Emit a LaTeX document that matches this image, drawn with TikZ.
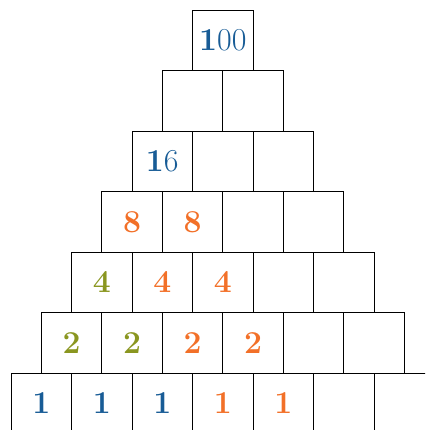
\documentclass[tikz,border=0pt]{standalone}
\usepackage{tikz}

\definecolor{numblue}{RGB}{24,92,150}
\definecolor{numorange}{RGB}{242,112,40}
\definecolor{numolive}{RGB}{138,150,32}
\newcommand{\nblue}[1]{\textcolor{numblue}{\textbf{#1}}}
\newcommand{\norange}[1]{\textcolor{numorange}{\textbf{#1}}}
\newcommand{\nolive}[1]{\textcolor{numolive}{\textbf{#1}}}

\begin{document}
\begin{tikzpicture}[
  cell/.style={rectangle, draw, line width=0.4pt, minimum size=1cm, inner sep=0pt, font=\fontsize{15}{18}\selectfont}
]
\useasboundingbox (-3.682,-6.442) rectangle (3.343,0.665);
\clip (-3.682,-6.442) rectangle (3.343,0.665);

% row 1
\node[cell] (r1c1) at (0,0) {\textcolor{numblue}{\textbf{1}00}};
% row 2
\foreach \t [count=\c] in {{},{}}
  \node[cell] (r2c\c) at ({\c-1-0.5},-1) {\t};
% row 3
\foreach \t [count=\c] in {{\textcolor{numblue}{\textbf{1}6}},{},{}}
  \node[cell] (r3c\c) at ({\c-1-1},-2) {\t};
% row 4
\foreach \t [count=\c] in {\norange{8},\norange{8},{},{}}
  \node[cell] (r4c\c) at ({\c-1-1.5},-3) {\t};
% row 5
\foreach \t [count=\c] in {\nolive{4},\norange{4},\norange{4},{},{}}
  \node[cell] (r5c\c) at ({\c-1-2},-4) {\t};
% row 6
\foreach \t [count=\c] in {\nolive{2},\nolive{2},\norange{2},\norange{2},{},{}}
  \node[cell] (r6c\c) at ({\c-1-2.5},-5) {\t};
% row 7
\foreach \t [count=\c] in {\nblue{1},\nblue{1},\nblue{1},\norange{1},\norange{1},{},{}}
  \node[cell] (r7c\c) at ({\c-1-3},-6) {\t};
\end{tikzpicture}
\end{document}
